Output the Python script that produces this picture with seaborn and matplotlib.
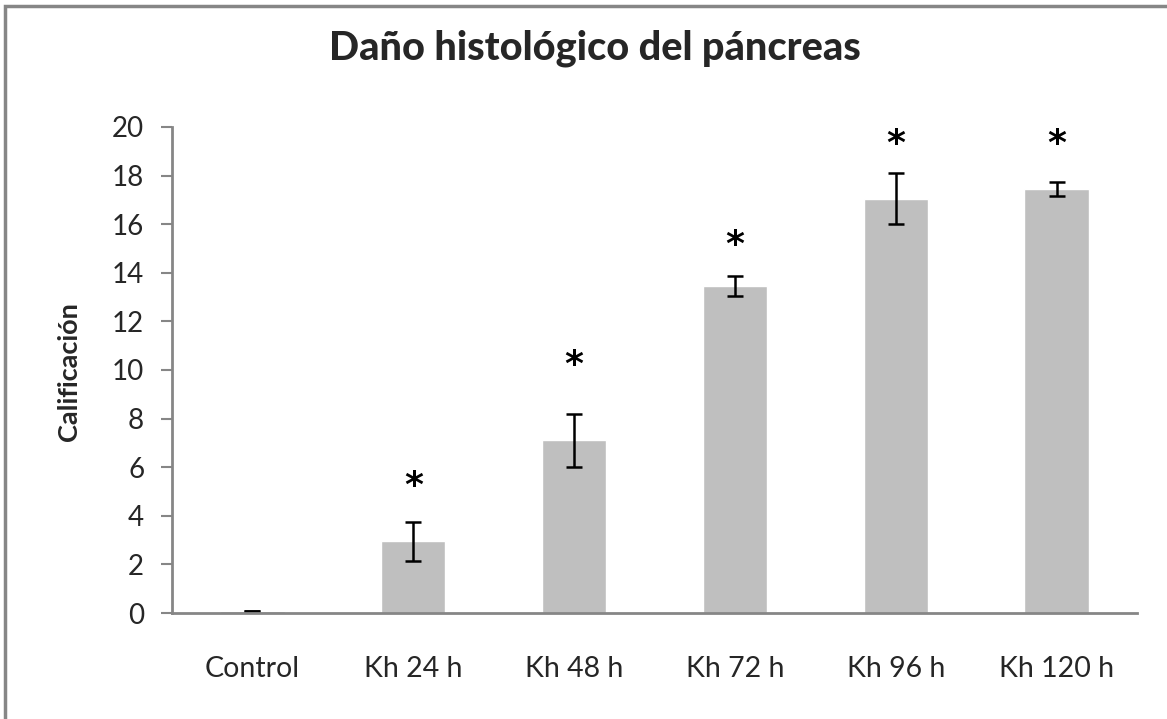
import matplotlib
matplotlib.use("Agg")
import matplotlib.pyplot as plt
import seaborn as sns
import pandas as pd
from matplotlib.patches import Rectangle

# Data
grupos = ["Control", "Kh 24 h", "Kh 48 h", "Kh 72 h", "Kh 96 h", "Kh 120 h"]
calificacion = [0.08, 2.95, 7.1, 13.45, 17.05, 17.45]
error = [0.0, 0.8, 1.1, 0.42, 1.05, 0.3]
asterisco_y = [None, 5.6, 10.6, 15.55, 19.7, 19.7]

df = pd.DataFrame({"grupo": grupos, "calificacion": calificacion})

sns.set_style("white")
plt.rcParams["font.family"] = ["Lato", "DejaVu Sans"]

fig = plt.figure(figsize=(11.67, 7.19), dpi=100)
ax = fig.add_axes([0.1474, 0.1474, 0.8269, 0.676])

sns.barplot(data=df, x="grupo", y="calificacion", color="#BFBFBF",
            width=0.4, errorbar=None, saturation=1, ax=ax)
ax.errorbar(range(len(grupos)), calificacion, yerr=error, fmt="none",
            ecolor="black", elinewidth=1.8, capsize=5.5, capthick=1.8)

# significance marks, glyph centred on the given value
for i, yy in enumerate(asterisco_y):
    if yy is not None:
        ax.annotate("*", xy=(i, yy), xytext=(0, -14), textcoords="offset points",
                    ha="center", va="baseline", fontsize=26, fontweight="bold",
                    family="DejaVu Sans", color="black")

ax.set_xlim(-0.5, len(grupos) - 0.5)
ax.set_ylim(0, 20)
ax.set_yticks(range(0, 21, 2))

# category boundaries as tick marks, labels centred without marks
ax.set_xticks([i - 0.5 for i in range(len(grupos) + 1)], minor=True)
ax.tick_params(axis="x", which="major", length=0, pad=31, labelsize=20.5)
ax.tick_params(axis="x", which="minor", length=7, width=1.5, color="#868686", direction="out")
ax.tick_params(axis="y", length=8, width=1.5, color="#868686", direction="out",
               pad=12, labelsize=20, left=True)

for side in ["top", "right"]:
    ax.spines[side].set_visible(False)
for side in ["left", "bottom"]:
    ax.spines[side].set_color("#868686")
    ax.spines[side].set_linewidth(2)

ax.set_xlabel("")
ax.set_ylabel("Calificación", fontsize=19.5, fontweight="bold")
ax.yaxis.label.set_va("center")
ax.yaxis.set_label_coords(-0.1067, 0.496)

fig.text(0.5095, 0.933, "Daño histológico del páncreas", ha="center", va="center",
         fontsize=28.5, fontweight=900)

# outer chart frame
fig.patches.append(Rectangle((5 / 1167, -0.05), 1.2, 1 - 6 / 719 + 0.05,
                             transform=fig.transFigure, fill=False,
                             edgecolor="#868686", linewidth=2.5))

fig.savefig("out.png", dpi=100)
